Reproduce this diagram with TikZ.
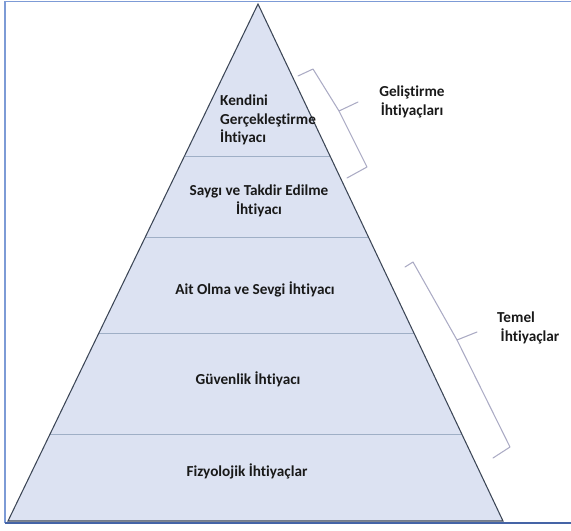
\documentclass[tikz,border=0pt]{standalone}
\usepackage{fontspec}
\setmainfont{Carlito}[Ligatures={NoCommon}]
\usetikzlibrary{calc}
\definecolor{pyrfill}{HTML}{DCE2F2}
\definecolor{pyredge}{HTML}{3C4656}
\definecolor{divline}{HTML}{9FAFC6}
\definecolor{bracecol}{HTML}{ABABC4}
\definecolor{framecol}{HTML}{7D9BD6}
\definecolor{framedark}{HTML}{4564A6}

\begin{document}
\begin{tikzpicture}[x=0.03cm,y=-0.03cm]
\tikzstyle{tierlabel}=[font=\fontsize{13}{15.7}\selectfont\bfseries, text=black!90, align=center, inner sep=0pt]
\tikzstyle{groupbrace}=[draw=bracecol, line width=0.9pt, line join=round, line cap=round]
\useasboundingbox (0,0) rectangle (571,530);
% frame
\draw[framecol, line width=1.4pt] (571,1.5) -- (5,1.5) -- (5,523);
\draw[framedark, line width=2pt] (5,523) -- (571,523);
% pyramid
\coordinate (apex) at (258,4);
\coordinate (bl) at (8,521);
\coordinate (br) at (503,521);
\fill[pyrfill] (apex) -- (bl) -- (br) -- cycle;
\foreach \t in {0.294,0.4507,0.6364,0.8317}
  \draw[divline, line width=0.8pt] ($(apex)!\t!(bl)$) -- ($(apex)!\t!(br)$);
\draw[pyredge, line width=0.9pt] (apex) -- (bl) -- (br) -- cycle;
% tiers
\node (kendini) [tierlabel, align=left, anchor=west] at (220,120) {Kendini\\Gerçekleştirme\\İhtiyacı};
\node (saygi) [tierlabel] at (259,201) {Saygı ve Takdir Edilme\\İhtiyacı};
\node (ait) [tierlabel] at (255,289) {Ait Olma ve Sevgi İhtiyacı};
\node (guvenlik) [tierlabel] at (248,379) {Güvenlik İhtiyacı};
\node (fizyo) [tierlabel] at (247,471) {Fizyolojik İhtiyaçlar};
% groups
\draw[groupbrace] (298,76) -- (313,69) -- (339,111) -- (358,102);
\draw[groupbrace] (339,111) -- (367,167) -- (347,178);
\node (gelistirme) [tierlabel] at (412,102) {Geliştirme\\İhtiyaçları};
\draw[groupbrace] (405,267) -- (413,262) -- (457,340) -- (477,332);
\draw[groupbrace] (457,340) -- (510,447) -- (493,458);
\node (temel) [tierlabel, align=left, anchor=west] at (497,328) {Temel\\\ İhtiyaçlar};
\end{tikzpicture}
\end{document}
